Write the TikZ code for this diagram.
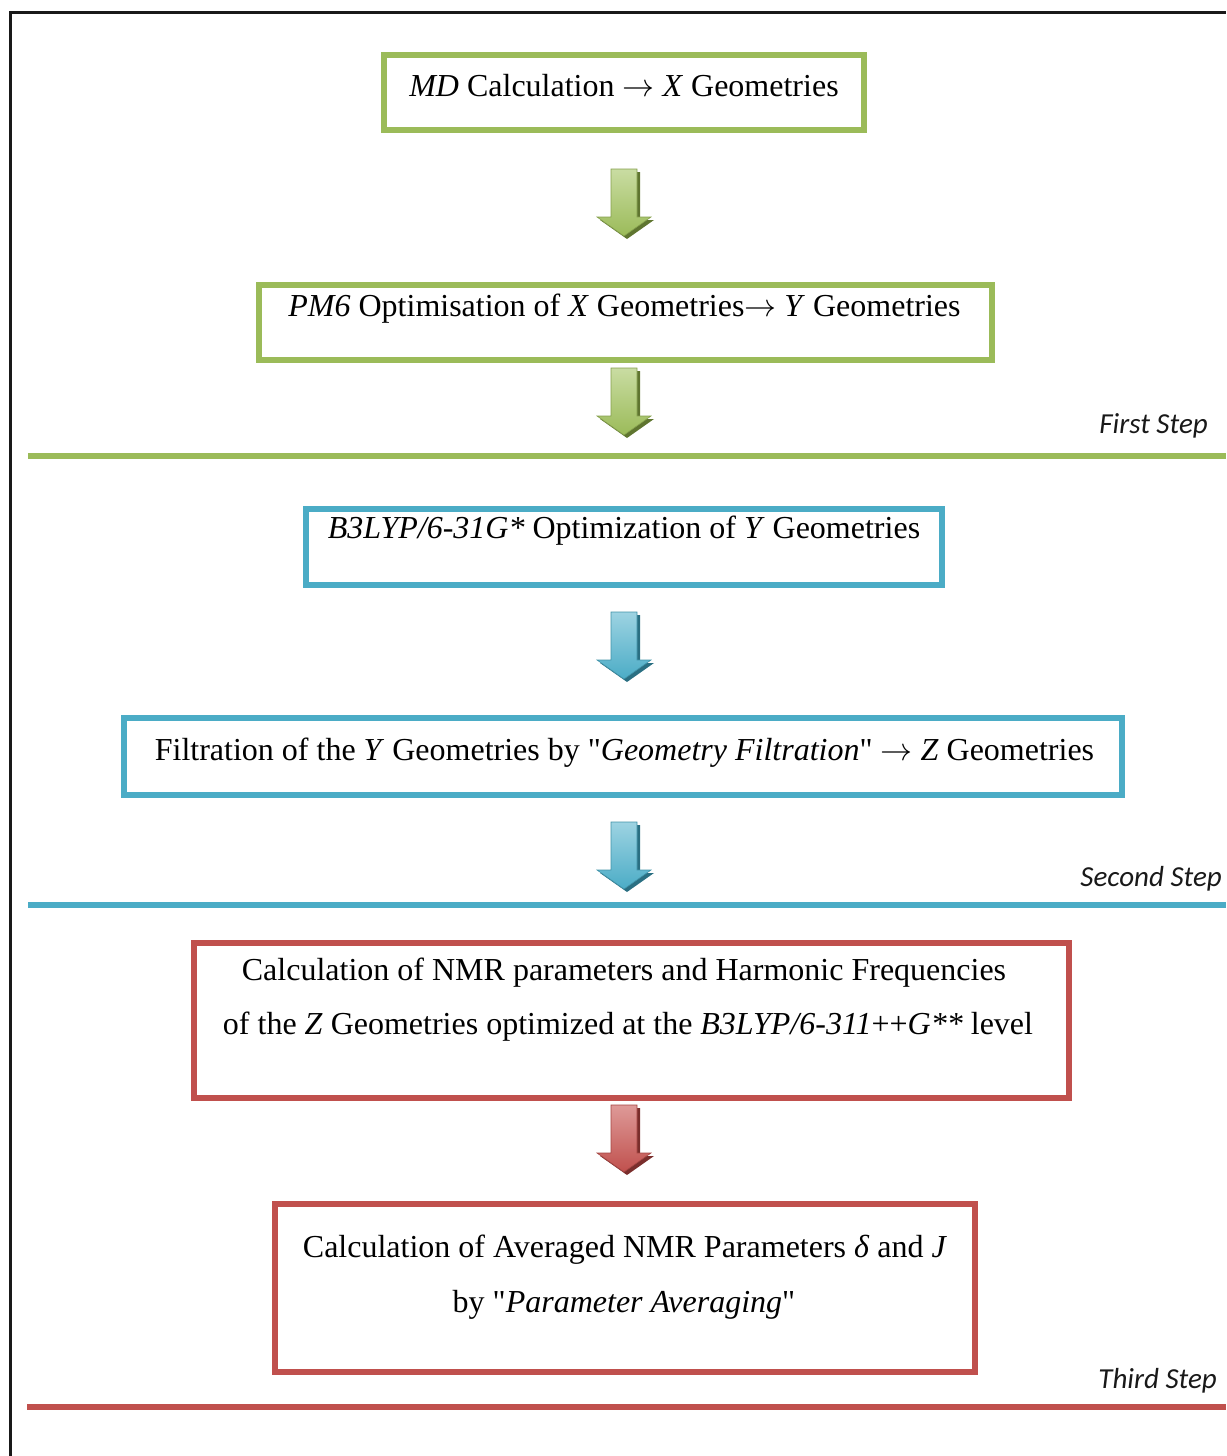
\RequirePackage{fix-cm}
\documentclass[tikz,border=0pt]{standalone}
\usepackage{fontspec}
\setmainfont{Liberation Serif}[Ligatures=TeXOff]
\newfontfamily\stepfont{Carlito}
\definecolor{ogreen}{HTML}{9BBB59}
\definecolor{ogreenL}{HTML}{C9DCA2}
\definecolor{ogreenD}{HTML}{5F7530}
\definecolor{oblue}{HTML}{4BACC6}
\definecolor{oblueL}{HTML}{9DD3E2}
\definecolor{oblueD}{HTML}{2A6F82}
\definecolor{ored}{HTML}{C0504D}
\definecolor{oredL}{HTML}{DE9A98}
\definecolor{oredD}{HTML}{7A2E2C}
\newcommand{\rarr}{\ensuremath{\rightarrow}}
\newcommand{\flowarrow}[4]{%
  \begin{scope}[shift={(#1)}]
    \fill[#4] (-10,3) -- (16,3) -- (16,51) -- (30,51) -- (3,70) -- (-24,51) -- (-10,51) -- cycle;
    \shade[top color=#3, bottom color=#2, draw=#2!85!black, line width=0.6pt]
      (-13,0) -- (13,0) -- (13,48) -- (27,48) -- (0,67) -- (-27,48) -- (-13,48) -- cycle;
  \end{scope}}
\tikzset{
  box/.style={draw=#1, line width=5.5pt, inner sep=0pt, fill=none},
  boxtext/.style={font=\fontsize{32}{55}\selectfont, anchor=base, inner sep=0pt},
  steplbl/.style={font=\stepfont\itshape\fontsize{29}{32}\selectfont, anchor=base east, inner sep=0pt, text=black!90},
  sepline/.style={draw=#1, line width=6pt},
}
\begin{document}
\begin{tikzpicture}[x=1pt,y=-1pt]
\useasboundingbox (0,0) rectangle (1226,1456);
% frame
\draw[line width=3pt, black!90] (10.5,1456) -- (10.5,12) -- (1226,12);

% boxes
\node[box=ogreen, minimum width=480, minimum height=75] (b1) at (624,92.5) {};
\node[box=ogreen, minimum width=733, minimum height=75] (b2) at (625.5,322.5) {};
\node[box=oblue, minimum width=636, minimum height=76] (b3) at (624,547) {};
\node[box=oblue, minimum width=998, minimum height=77] (b4) at (623,756.5) {};
\node[box=ored, minimum width=875, minimum height=155] (b5) at (631.5,1020.5) {};
\node[box=ored, minimum width=700, minimum height=168] (b6) at (625,1288) {};

% texts
\node[boxtext] (t1) at (624,96) {\textit{MD} Calculation \rarr{} \textit{X} Geometries};
\node[boxtext] (t2) at (624.5,316) {\textit{PM6} Optimisation of \textit{X} Geometries\rarr{} \textit{Y} Geometries};
\node[boxtext] (t3) at (624,538) {\textit{B3LYP/6-31G*} Optimization of \textit{Y} Geometries};
\node[boxtext] (t4) at (624.5,760) {Filtration of the \textit{Y} Geometries by "\textit{Geometry Filtration}" \rarr{} \textit{Z} Geometries};
\node[boxtext] (t5a) at (624,980) {Calculation of NMR parameters and Harmonic Frequencies};
\node[boxtext] (t5b) at (628,1034) {of the \textit{Z} Geometries optimized at the \textit{B3LYP/6-311}++\textit{G**} level};
\node[boxtext] (t6a) at (625,1257) {Calculation of Averaged NMR Parameters \textit{δ} and \textit{J}};
\node[boxtext] (t6b) at (624,1312) {by "\textit{Parameter Averaging}"};

% arrows
\coordinate (a1) at (624,169);
\coordinate (a2) at (624,368);
\coordinate (a3) at (624,612);
\coordinate (a4) at (624,822);
\coordinate (a5) at (624,1105);
\flowarrow{a1}{ogreen}{ogreenL}{ogreenD}
\flowarrow{a2}{ogreen}{ogreenL}{ogreenD}
\flowarrow{a3}{oblue}{oblueL}{oblueD}
\flowarrow{a4}{oblue}{oblueL}{oblueD}
\flowarrow{a5}{ored}{oredL}{oredD}

% separators and step labels
\draw[sepline=ogreen] (28,455.5) -- (1226,455.5);
\draw[sepline=oblue] (28,905) -- (1226,905);
\draw[sepline=ored] (27,1406.5) -- (1226,1406.5);
\node[steplbl] (s1) at (1208,433) {First Step};
\node[steplbl] (s2) at (1222,886) {Second Step};
\node[steplbl] (s3) at (1217,1388) {Third Step};
\end{tikzpicture}
\end{document}
